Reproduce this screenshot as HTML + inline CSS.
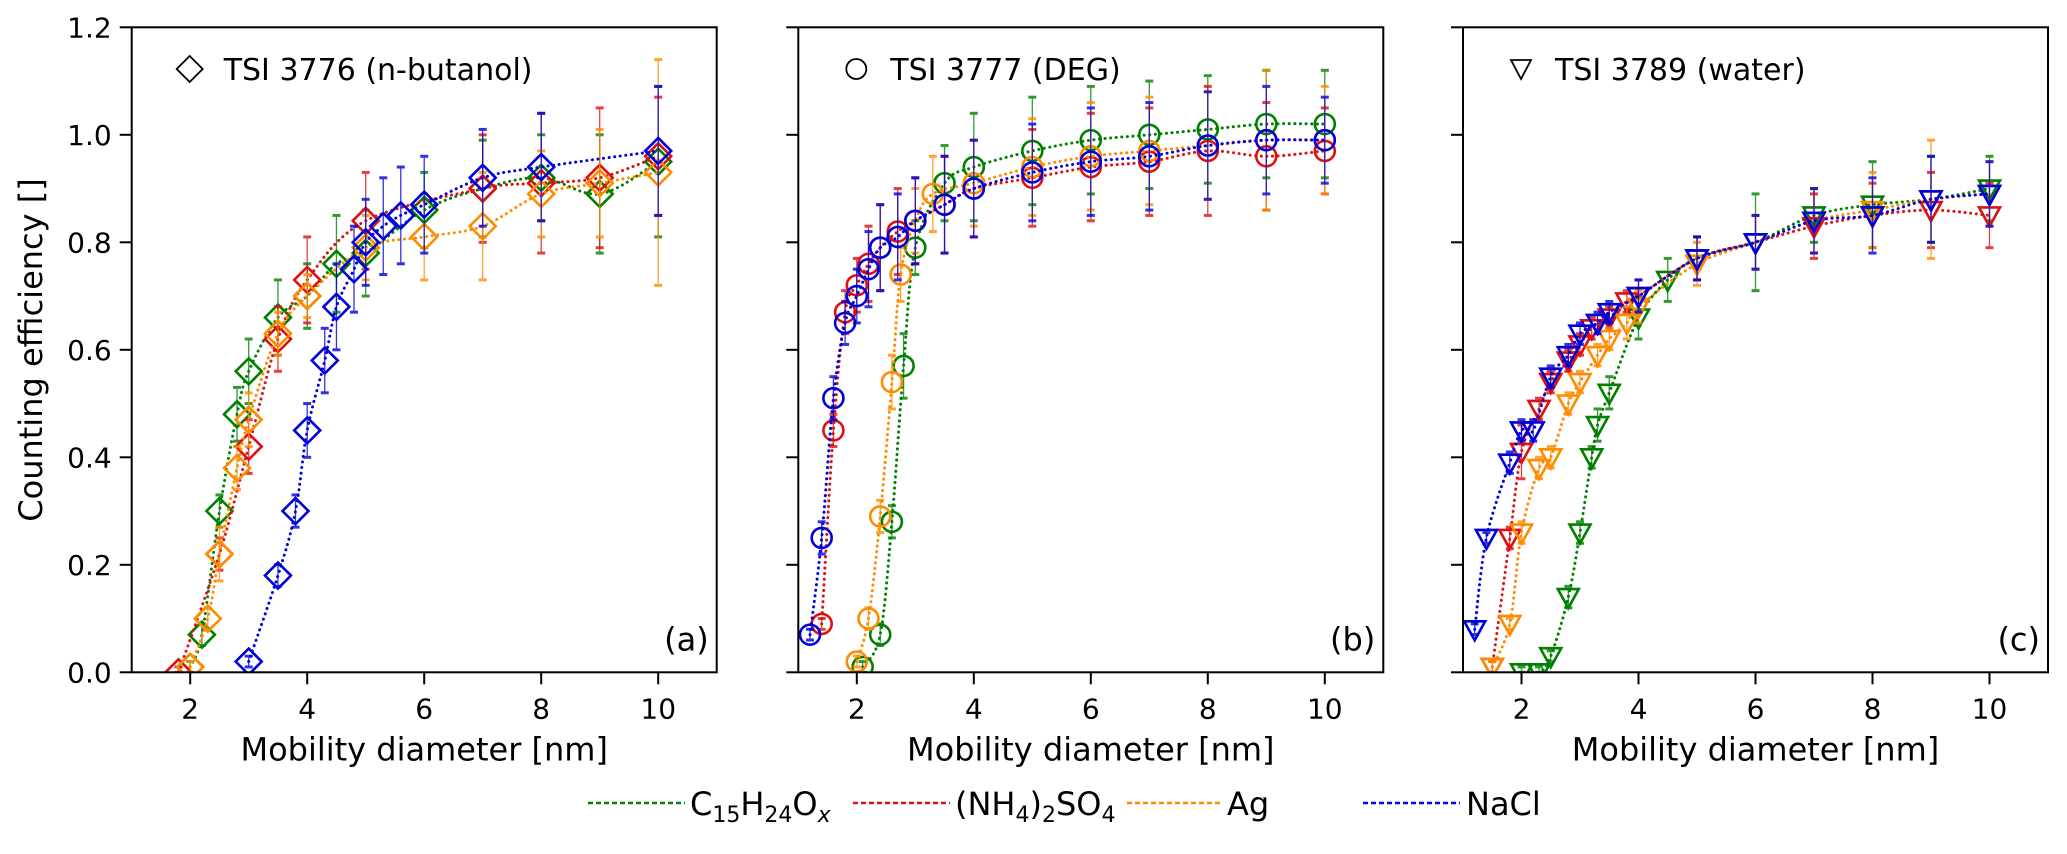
<!DOCTYPE html>
<html><head><meta charset="utf-8"><style>
html,body{margin:0;padding:0;background:#fff;}
svg{display:block;font-family:"DejaVu Sans","Liberation Sans",sans-serif;}
</style></head><body>
<svg id="chart" width="2067" height="854" viewBox="0 0 2067 854" xmlns="http://www.w3.org/2000/svg">
<text x="0" y="0" transform="translate(42,350) rotate(-90)" text-anchor="middle" font-size="32">Counting efficiency []</text>
<g id="legend" font-size="32">
<g><line x1="588" y1="803" x2="685" y2="803" stroke="#008000" stroke-width="2.5" stroke-dasharray="5 3"/><text x="690" y="815">C<tspan font-size="22" dy="7">15</tspan><tspan dy="-7">H</tspan><tspan font-size="22" dy="7">24</tspan><tspan dy="-7">O</tspan><tspan font-size="22" dy="7" font-style="italic">x</tspan></text></g>
<g><line x1="853" y1="803" x2="950" y2="803" stroke="#dd1111" stroke-width="2.5" stroke-dasharray="5 3"/><text x="955" y="815">(NH<tspan font-size="22" dy="7">4</tspan><tspan dy="-7">)</tspan><tspan font-size="22" dy="7">2</tspan><tspan dy="-7">SO</tspan><tspan font-size="22" dy="7">4</tspan></text></g>
<g><line x1="1127" y1="803" x2="1222" y2="803" stroke="#ff8c00" stroke-width="2.5" stroke-dasharray="5 3"/><text x="1227" y="815">Ag</text></g>
<g><line x1="1363" y1="803" x2="1460" y2="803" stroke="#0000dd" stroke-width="2.5" stroke-dasharray="5 3"/><text x="1466" y="815">NaCl</text></g>
</g>
</svg>
<script>
// ---- data ----
const seriesNames = ["C15H24Ox","(NH4)2SO4","Ag","NaCl"];
const seriesColors = ["#008000","#dd1111","#ff8c00","#0000dd"];
const xTicks = [2,4,6,8,10];
const yTicks = [0,0.2,0.4,0.6,0.8,1.0,1.2];
const yTickLabels = ["0.0","0.2","0.4","0.6","0.8","1.0","1.2"];
const panelTitles = ["TSI 3776 (n-butanol)","TSI 3777 (DEG)","TSI 3789 (water)"];
const panelLetters = ["(a)","(b)","(c)"];
const panelMarkers = ["diamond","circle","triangle"];

// Panel a
const aGreenX=[2.0,2.2,2.5,2.8,3.0,3.5,4.0,4.5,5.0,6.0,7.0,8.0,9.0,10];
const aGreenY=[0.01,0.07,0.30,0.48,0.56,0.66,0.70,0.76,0.78,0.86,0.90,0.92,0.89,0.95];
const aGreenE=[0.01,0.02,0.03,0.05,0.06,0.07,0.06,0.09,0.08,0.07,0.09,0.08,0.11,0.14];
const aRedX=[1.8,2.5,3.0,3.5,4.0,5.0,7.0,8.0,9.0,10];
const aRedY=[0.0,0.22,0.42,0.62,0.73,0.84,0.90,0.91,0.92,0.96];
const aRedE=[0.01,0.03,0.05,0.06,0.08,0.09,0.10,0.13,0.13,0.11];
const aOrangeX=[2.0,2.3,2.5,2.8,3.0,3.5,4.0,5.0,6.0,7.0,8.0,9.0,10];
const aOrangeY=[0.01,0.10,0.22,0.38,0.47,0.63,0.70,0.79,0.81,0.83,0.89,0.91,0.93];
const aOrangeE=[0.01,0.02,0.05,0.04,0.05,0.04,0.04,0.06,0.08,0.10,0.08,0.10,0.21];
const aBlueX=[3.0,3.5,3.8,4.0,4.3,4.5,4.8,5.0,5.3,5.6,6.0,7.0,8.0,10];
const aBlueY=[0.02,0.18,0.30,0.45,0.58,0.68,0.75,0.80,0.83,0.85,0.87,0.92,0.94,0.97];
const aBlueE=[0.01,0.02,0.03,0.05,0.06,0.08,0.08,0.08,0.09,0.09,0.09,0.09,0.10,0.12];
// Panel b
const bGreenX=[2.1,2.4,2.6,2.8,3.0,3.5,4.0,5.0,6.0,7.0,8.0,9.0,10];
const bGreenY=[0.01,0.07,0.28,0.57,0.79,0.91,0.94,0.97,0.99,1.00,1.01,1.02,1.02];
const bGreenE=[0.01,0.02,0.03,0.06,0.05,0.07,0.10,0.10,0.10,0.10,0.10,0.10,0.10];
const bOrangeX=[2.0,2.2,2.4,2.6,2.75,3.0,3.3,4.0,5.0,6.0,7.0,8.0,9.0,10];
const bOrangeY=[0.02,0.10,0.29,0.54,0.74,0.84,0.89,0.91,0.94,0.96,0.97,0.98,0.99,0.99];
const bOrangeE=[0.01,0.02,0.03,0.05,0.05,0.06,0.07,0.08,0.09,0.10,0.10,0.10,0.13,0.10];
const bRedX=[1.4,1.6,1.8,2.0,2.2,2.4,2.7,3.0,3.5,4.0,5.0,6.0,7.0,8.0,9.0,10];
const bRedY=[0.09,0.45,0.67,0.72,0.76,0.79,0.82,0.84,0.87,0.90,0.92,0.94,0.95,0.97,0.96,0.97];
const bRedE=[0.01,0.03,0.04,0.05,0.07,0.08,0.08,0.08,0.09,0.09,0.09,0.10,0.10,0.12,0.10,0.08];
const bBlueX=[1.2,1.4,1.6,1.8,2.0,2.2,2.4,2.7,3.0,3.5,4.0,5.0,6.0,7.0,8.0,9.0,10];
const bBlueY=[0.07,0.25,0.51,0.65,0.70,0.75,0.79,0.81,0.84,0.87,0.90,0.93,0.95,0.96,0.98,0.99,0.99];
const bBlueE=[0.01,0.03,0.04,0.04,0.05,0.07,0.08,0.08,0.08,0.09,0.09,0.09,0.10,0.10,0.10,0.10,0.08];
// Panel c
const cGreenX=[2.0,2.3,2.5,2.8,3.0,3.2,3.3,3.5,4.0,4.5,5.0,6.0,7.0,8.0,9.0,10];
const cGreenY=[0.0,0.0,0.03,0.14,0.26,0.40,0.46,0.52,0.66,0.73,0.77,0.80,0.85,0.87,0.88,0.90];
const cGreenE=[0.01,0.01,0.01,0.02,0.02,0.02,0.03,0.03,0.04,0.04,0.04,0.09,0.05,0.08,0.08,0.06];
const cRedX=[1.5,1.8,2.0,2.3,2.5,2.8,3.0,3.2,3.5,3.8,4.0,5.0,6.0,7.0,8.0,9.0,10];
const cRedY=[0.01,0.25,0.41,0.49,0.54,0.58,0.61,0.64,0.66,0.69,0.70,0.77,0.80,0.83,0.85,0.86,0.85];
const cRedE=[0.01,0.02,0.05,0.02,0.02,0.02,0.02,0.02,0.02,0.02,0.03,0.04,0.05,0.06,0.06,0.07,0.06];
const cOrangeX=[1.5,1.8,2.0,2.3,2.5,2.8,3.0,3.3,3.5,3.8,4.0,5.0,6.0,7.0,8.0,9.0,10];
const cOrangeY=[0.01,0.09,0.26,0.38,0.40,0.50,0.54,0.59,0.62,0.65,0.68,0.76,0.80,0.84,0.86,0.88,0.89];
const cOrangeE=[0.01,0.01,0.02,0.02,0.02,0.02,0.02,0.02,0.02,0.03,0.03,0.04,0.05,0.06,0.07,0.11,0.06];
const cBlueX=[1.2,1.4,1.8,2.0,2.2,2.5,2.8,3.0,3.3,3.5,4.0,5.0,6.0,7.0,8.0,9.0,10];
const cBlueY=[0.08,0.25,0.39,0.45,0.45,0.55,0.59,0.63,0.65,0.67,0.70,0.77,0.80,0.84,0.85,0.88,0.89];
const cBlueE=[0.01,0.01,0.02,0.02,0.02,0.02,0.02,0.02,0.02,0.02,0.03,0.04,0.05,0.06,0.07,0.08,0.06];

const panelData=[
 [[aGreenX,aGreenY,aGreenE],[aRedX,aRedY,aRedE],[aOrangeX,aOrangeY,aOrangeE],[aBlueX,aBlueY,aBlueE]],
 [[bGreenX,bGreenY,bGreenE],[bRedX,bRedY,bRedE],[bOrangeX,bOrangeY,bOrangeE],[bBlueX,bBlueY,bBlueE]],
 [[cGreenX,cGreenY,cGreenE],[cRedX,cRedY,cRedE],[cOrangeX,cOrangeY,cOrangeE],[cBlueX,cBlueY,cBlueE]]
];

// ---- layout ----
const NS="http://www.w3.org/2000/svg";
const svg=document.getElementById('chart');
const panelLeft=[131.7,798.3,1463];
const PW=585, TOP=27.3, BOT=672.3;
const XMIN=1, XMAX=11, YMIN=0, YMAX=1.2;
function mk(tag,attrs,parent){const e=document.createElementNS(NS,tag);for(const k in attrs)e.setAttribute(k,attrs[k]);parent.appendChild(e);return e;}
function yScale(v){return BOT-(v-YMIN)/(YMAX-YMIN)*(BOT-TOP);}

function smoothPath(pts){
  if(pts.length<2)return '';
  let d='M'+pts[0][0]+','+pts[0][1];
  for(let i=0;i<pts.length-1;i++){
    const p0=pts[Math.max(0,i-1)],p1=pts[i],p2=pts[i+1],p3=pts[Math.min(pts.length-1,i+2)];
    const c1=[p1[0]+(p2[0]-p0[0])/6,p1[1]+(p2[1]-p0[1])/6];
    const c2=[p2[0]-(p3[0]-p1[0])/6,p2[1]-(p3[1]-p1[1])/6];
    d+=' C'+c1[0]+','+c1[1]+' '+c2[0]+','+c2[1]+' '+p2[0]+','+p2[1];
  }
  return d;
}

panelData.forEach((series,pi)=>{
  const L=panelLeft[pi];
  const xScale=v=>L+(v-XMIN)/(XMAX-XMIN)*PW;
  const g=mk('g',{},svg);
  
  
  const cp=mk('clipPath',{id:'clip'+pi},g);
  mk('rect',{x:L,y:TOP-12,width:PW,height:BOT-TOP+12},cp);
  xTicks.forEach((t,i)=>{
    const x=xScale(t);
    const tk=mk('line',{x1:x,y1:BOT,x2:x,y2:BOT+12,stroke:'#000','stroke-width':2},g);
    
    
    const tl=mk('text',{x:x,y:BOT+46,'text-anchor':'middle','font-size':28},g);
    
    
    tl.textContent=String(t);
  });
  yTicks.forEach((t,i)=>{
    const y=yScale(t);
    const tk=mk('line',{x1:L-12,y1:y,x2:L,y2:y,stroke:'#000','stroke-width':2},g);
    
    
    if(pi===0){
      const tl=mk('text',{x:L-20,y:y+10,'text-anchor':'end','font-size':28},g);
      
      
      tl.textContent=yTickLabels[i];
    }
  });
  const xt=mk('text',{x:L+PW/2,y:BOT+88,'text-anchor':'middle','font-size':32},g);
  
  
  xt.textContent='Mobility diameter [nm]';
  const dg=mk('g',{'clip-path':'url(#clip'+pi+')'},g);
  series.forEach((s,si)=>{
    const [xs,ys,es]=s; const col=seriesColors[si];
    const sg=mk('g',{},dg);
    
    
    const pts=xs.map((x,i)=>[xScale(x),yScale(ys[i])]);
    const fit=mk('path',{d:smoothPath(pts),fill:'none',stroke:col,'stroke-width':3,'stroke-dasharray':'0.1 5.5','stroke-linecap':'round'},sg);
    
    
    xs.forEach((x,i)=>{
      const px=xScale(x),py=yScale(ys[i]),e=es[i];
      const y1=yScale(ys[i]+e),y2=yScale(Math.max(0,ys[i]-e));
      const eb=mk('g',{stroke:col,'stroke-width':1.3,opacity:0.8},sg);
      
      
      mk('line',{x1:px,y1:y1,x2:px,y2:y2},eb);
      mk('line',{x1:px-4,y1:y1,x2:px+4,y2:y1,'stroke-width':3},eb);
      mk('line',{x1:px-4,y1:y2,x2:px+4,y2:y2,'stroke-width':3},eb);
      let m;
      if(panelMarkers[pi]==='diamond'){
        m=mk('polygon',{points:`${px},${py-13} ${px+13},${py} ${px},${py+13} ${px-13},${py}`,fill:'none',stroke:col,'stroke-width':2.6},sg);
      }else if(panelMarkers[pi]==='circle'){
        m=mk('circle',{cx:px,cy:py,r:10,fill:'none',stroke:col,'stroke-width':2.6},sg);
      }else{
        m=mk('polygon',{points:`${px-10.5},${py-8} ${px+10.5},${py-8} ${px},${py+11}`,fill:'none',stroke:col,'stroke-width':2.6},sg);
      }
      
      
    });
  });
  const fr=mk('rect',{x:L,y:TOP,width:PW,height:BOT-TOP,fill:'none',stroke:'#000','stroke-width':2},g);
  
  
  const mx=L+58,my=69;
  let tm;
  if(panelMarkers[pi]==='diamond') tm=mk('polygon',{points:`${mx},${my-13} ${mx+13},${my} ${mx},${my+13} ${mx-13},${my}`,fill:'none',stroke:'#000','stroke-width':1.8},g);
  else if(panelMarkers[pi]==='circle') tm=mk('circle',{cx:mx,cy:my,r:10,fill:'none',stroke:'#000','stroke-width':1.8},g);
  else tm=mk('polygon',{points:`${mx-10},${my-9} ${mx+10},${my-9} ${mx},${my+10}`,fill:'none',stroke:'#000','stroke-width':1.8},g);
  
  
  const tt=mk('text',{x:L+92,y:80,'font-size':30},g);
  
  
  tt.textContent=panelTitles[pi];
  const lt=mk('text',{x:L+PW-8,y:BOT-22,'text-anchor':'end','font-size':32},g);
  
  
  lt.textContent=panelLetters[pi];
});
</script>
</body></html>
